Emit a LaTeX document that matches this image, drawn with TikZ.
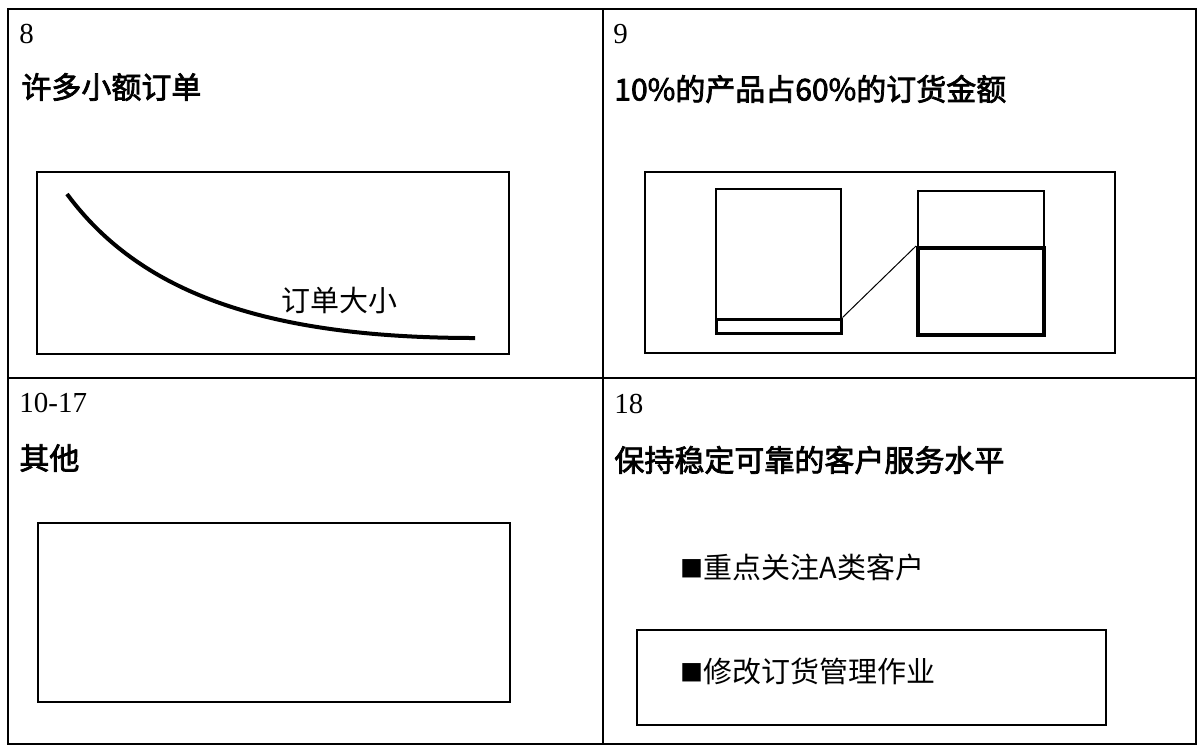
\documentclass[tikz,border=0pt]{standalone}
\usepackage{fontspec}
\setmainfont{Liberation Serif}
\newfontfamily\cjk{Noto Sans CJK SC}
\newfontfamily\cjkhead[FakeBold=2.5]{Noto Sans CJK SC}

\newcommand{\numfont}{\rmfamily\fontsize{14.5}{16}\selectfont}
\newcommand{\headfont}{\cjkhead\fontsize{15}{18}\selectfont}
\newcommand{\notefont}{\cjk\fontsize{14.5}{17}\selectfont}
\newcommand{\bul}{\raisebox{0.5pt}{\fontsize{11.5}{12}\selectfont ■}}

\tikzset{
	frame/.style={draw, line width=0.75pt},
	panel/.style={draw, line width=0.6pt, inner sep=0pt},
	num/.style={anchor=west, inner sep=0pt, font=\numfont},
	head/.style={anchor=west, inner sep=0pt, font=\headfont},
	note/.style={anchor=west, inner sep=0pt, font=\notefont},
}

\begin{document}
\begin{tikzpicture}[x=0.5pt, y=-0.5pt]
\useasboundingbox (0,0) rectangle (1198,746);

% Rahmen
\draw[frame] (8,9) rectangle (1196,744);
\draw[frame] (603,9) -- (603,744);
\draw[frame] (8,378) -- (1196,378);

% Feld 8
\node[num] (n8) at (19,34) {8};
\node[head] (h8) at (21,87) {许多小额订单};
\node[panel, minimum width=236pt, minimum height=91pt] (chart8) at (273,263) {};
\draw[line width=2pt] (67,194) .. controls (138,290) and (260,338) .. (475,338);
\node[note] (size8) at (281,300) {订单大小};

% Feld 9
\node[num] (n9) at (613,34) {9};
\node[head] (h9) at (614,89) {10\%的产品占60\%的订货金额};
\node[panel, minimum width=235pt, minimum height=90.5pt] (chart9) at (880,262.5) {};
\node[panel, minimum width=62.5pt, minimum height=72pt] (lbox) at (778.5,261) {};
\node[panel, line width=1.5pt, minimum width=62.5pt, minimum height=7pt] (lstrip) at (778.5,326) {};
\node[panel, minimum width=63pt, minimum height=72pt] (rbox) at (981,263) {};
\node[panel, line width=2pt, minimum width=63pt, minimum height=43.5pt] (rpart) at (981,291.5) {};
\draw[line width=0.5pt] (lstrip.north east) -- (rpart.north west);

% Feld 10-17
\node[num] (n10) at (19,403) {10-17};
\node[head] (h10) at (19,458) {其他};
\node[panel, minimum width=236pt, minimum height=89.5pt] (chart10) at (274,612.5) {};

% Feld 18
\node[num] (n18) at (614,404) {18};
\node[head] (h18) at (614,460) {保持稳定可靠的客户服务水平};
\node[note] (b1) at (680,567) {\bul 重点关注A类客户};
\node[panel, minimum width=234.5pt, minimum height=47.5pt] (opbox) at (871.5,677.5) {};
\node[note] (b2) at (680,671) {\bul 修改订货管理作业};
\end{tikzpicture}
\end{document}
